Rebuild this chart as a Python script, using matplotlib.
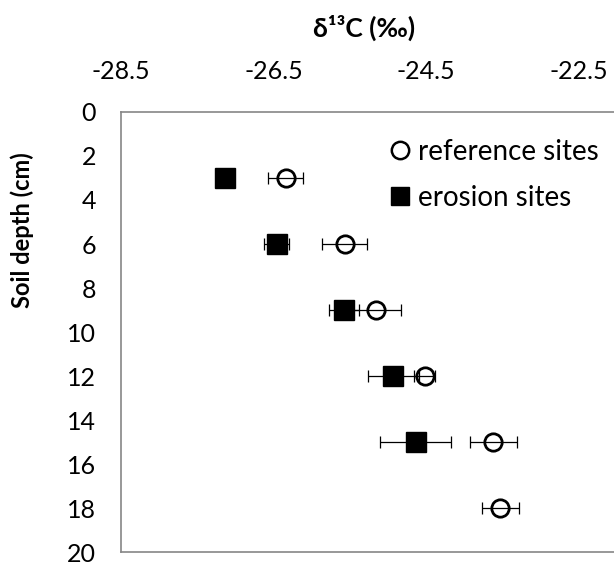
import matplotlib

matplotlib.use("Agg")
import matplotlib.pyplot as plt
from matplotlib.lines import Line2D

# data (delta13C in permil, depth in cm)
depth_erosion = [3, 6, 9, 12, 15]
d13c_erosion = [-27.14, -26.46, -25.58, -24.93, -24.64]
err_erosion = [0.08, 0.165, 0.2, 0.33, 0.46]

depth_ref = [3, 6, 9, 12, 15, 18]
d13c_ref = [-26.34, -25.57, -25.16, -24.52, -23.62, -23.53]
err_ref = [0.23, 0.29, 0.33, 0.14, 0.31, 0.24]

x_ticks = [-28.5, -26.5, -24.5, -22.5]
y_ticks = list(range(0, 21, 2))

W, H = 614, 562
plt.rcParams["font.family"] = ["Lato", "DejaVu Serif"]

fig = plt.figure(figsize=(W / 100, H / 100), dpi=100)
ax = fig.add_axes([121 / W, 10 / H, 496 / W, 440 / H])

# markers underneath, error bars drawn on top (like the Excel original)
ax.plot(d13c_erosion, depth_erosion, "s", ms=14.5, color="black", zorder=2)
ax.plot(d13c_ref, depth_ref, "o", ms=12.5, mfc="white", mec="black", mew=2.0,
        zorder=3)
ax.errorbar(d13c_erosion, depth_erosion, xerr=err_erosion, fmt="none",
            ecolor="black", elinewidth=0.9, capsize=4.5, capthick=0.9, zorder=4)
ax.errorbar(d13c_ref, depth_ref, xerr=err_ref, fmt="none",
            ecolor="black", elinewidth=0.9, capsize=4.5, capthick=0.9, zorder=4)

ax.set_xlim(-28.5, -22.0)
ax.set_ylim(20, 0)
ax.set_xticks(x_ticks)
ax.set_xticklabels([f"{v:.1f}" for v in x_ticks])
ax.set_yticks(y_ticks)
ax.xaxis.tick_top()
ax.tick_params(axis="x", length=0, pad=21, labelsize=18)
ax.tick_params(axis="y", length=0, pad=18, labelsize=18)

for side in ("left", "top", "bottom"):
    ax.spines[side].set_color("#868686")
    ax.spines[side].set_linewidth(1.2)
ax.spines["right"].set_visible(False)

fig.text(364 / W, 1 - 28 / H, "δ¹³C (‰)", ha="center", va="center",
         fontsize=19, fontweight="bold")
fig.text(22 / W, 1 - 230 / H, "Soil depth (cm)", ha="center", va="center",
         rotation=90, fontsize=17, fontweight="bold")

handles = [
    Line2D([], [], marker="o", ls="none", ms=12.5, mfc="white", mec="black",
           mew=1.8),
    Line2D([], [], marker="s", ls="none", ms=13.5, color="black"),
]
ax.legend(handles, ["reference sites", "erosion sites"], loc="upper left",
          bbox_to_anchor=(272 / 496, 1 - 27 / 440), frameon=False,
          fontsize=20, handlelength=0.5, handletextpad=0.4,
          labelspacing=0.72, borderaxespad=0, borderpad=0)

fig.savefig("out.png", dpi=100)
